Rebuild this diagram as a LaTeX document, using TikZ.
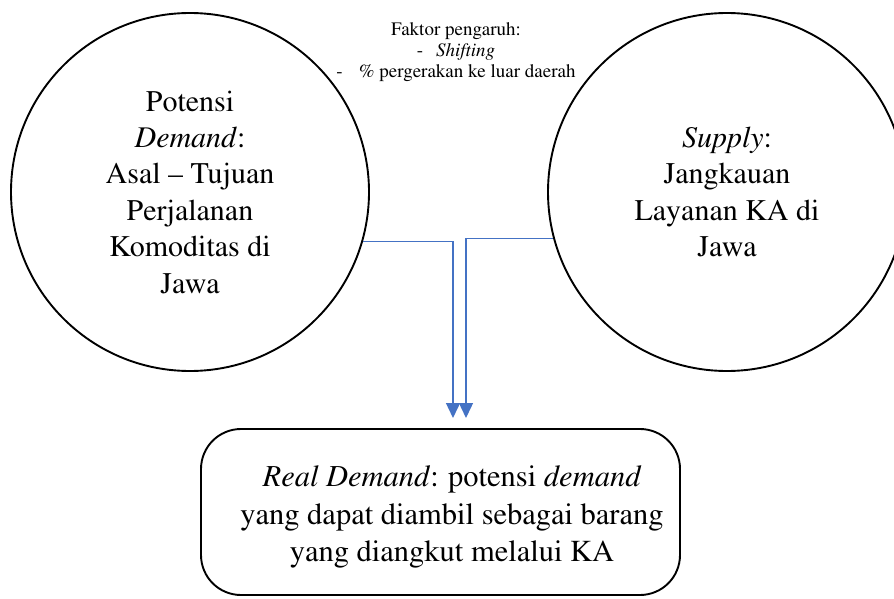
\documentclass[tikz,border=0pt]{standalone}
\usepackage[T1]{fontenc}
\usepackage{mathptmx}
\usepackage{tkz-euclide}
\usetikzlibrary{arrows.meta,positioning}

\definecolor{feedblue}{RGB}{68,114,196}
\tikzset{
  ringnode/.style={circle,draw,line width=1.9pt,minimum size=358pt,inner sep=0pt,
    align=center,font=\rmfamily\fontsize{30}{36.4}\selectfont},
  realbox/.style={draw,rounded corners=40pt,line width=1.9pt,minimum width=479pt,
    minimum height=166pt,inner sep=0pt},
  realtext/.style={inner sep=0pt,align=center,font=\rmfamily\fontsize{30.5}{37.5}\selectfont},
  feedline/.style={draw=feedblue,line width=1.4pt,-{Triangle[width=14pt,length=15pt]}},
  notetext/.style={align=center,inner sep=0pt,font=\rmfamily\fontsize{19}{21}\selectfont}
}

\begin{document}
\begin{tikzpicture}[x=1pt,y=1pt]
            \useasboundingbox (0,0) rectangle (894,598);
            \tkzDefPoint(190,406){A}
            \tkzDefPoint(727,406){B}
            \tkzDefPoint(440.5,86){C}
            \tkzDefPoint(452,81){D}
            \tkzDefPoint(456,545.5){F}
            \tkzDefPoint(453,180){P}
            \tkzDefPoint(466,180){Q}
            \node[ringnode] (demand) at (A) {Potensi\\\textit{Demand}:\\Asal -- Tujuan\\Perjalanan\\Komoditas di\\Jawa};
            \node[ringnode] (supply) at (B) {\textit{Supply}:\\Jangkauan\\Layanan KA di\\Jawa};
            \node[realbox] (real) at (C) {};
            \node[realtext] (realinfo) at (D) {\textit{Real Demand}: potensi \textit{demand}\\yang dapat diambil sebagai barang\\yang diangkut melalui KA};
            \node[notetext] (factor) at (F) {Faktor pengaruh:\\-\hspace{13pt}\textit{Shifting}\\-\hspace{16pt}\% pergerakan ke luar daerah};
            \draw[feedline] (demand.-16) -| (P);
            \draw[feedline] (supply.195) -| (Q);
        \end{tikzpicture}
\end{document}
